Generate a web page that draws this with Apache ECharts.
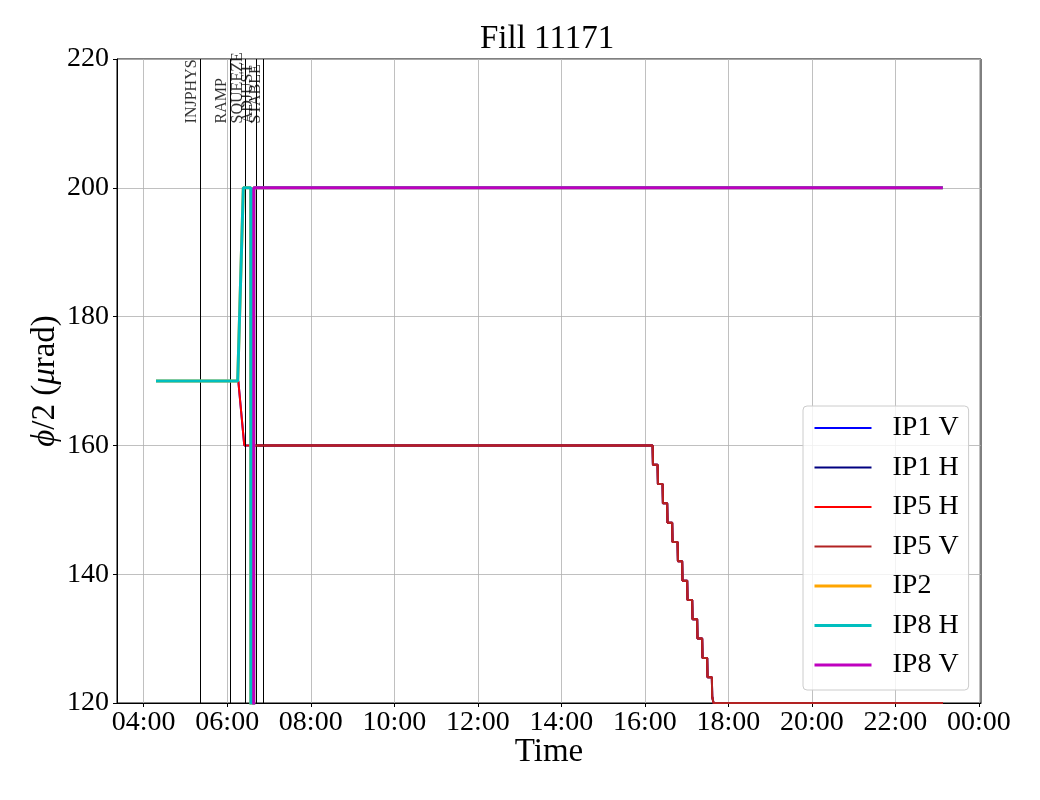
<!DOCTYPE html>
<html>
<head>
<meta charset="utf-8">
<script src="https://cdn.jsdelivr.net/npm/echarts@6/dist/echarts.min.js"></script>
<style>html,body{margin:0;padding:0;background:#fff}#c{width:1040px;height:800px}</style>
</head>
<body>
<div id="c"></div>
<script>
// ---- data (time in hours of day) ----
const seriesNames = ['IP1 V', 'IP1 H', 'IP5 H', 'IP5 V', 'IP2', 'IP8 H', 'IP8 V'];
const seriesColors = ['#0000ff', '#000080', '#ff0000', '#b22222', '#ffa500', '#00bfbf', '#bf00bf'];
const seriesWidths = [2, 2, 2, 2, 3, 3, 3];

// leveling steps of the IP1/IP5 crossing angle
const levelingSteps = [[16.186,160],[16.194,157],[16.305,157],[16.313,154],[16.425,154],[16.433,151],
  [16.535,151],[16.543,148],[16.655,148],[16.663,145],[16.784,145],[16.792,142],[16.894,142],[16.902,139],
  [17.014,139],[17.022,136],[17.134,136],[17.142,133],[17.253,133],[17.261,130],[17.373,130],[17.381,127],
  [17.493,127],[17.501,124],[17.605,124],[17.613,121],[17.636,121],[17.644,120],[23.136,120]];

const ip1V = [[4.294,170],[6.265,170],[6.408,160]];
const ip1H = [[4.294,0],[6.572,0],[6.586,160]];
const ip5H = [[4.294,170],[6.265,170],[6.408,160]];
const ip5V = [[4.294,0],[6.572,0],[6.586,160]];
const ip2  = [[4.294,170],[6.250,170],[6.385,200],[6.564,200],[6.570,0],[6.630,0],[6.636,200],[23.136,200]];
const ip8H = [[4.294,170],[6.250,170],[6.385,200],[6.564,200],[6.570,0],[6.630,0],[6.636,200],[23.136,200]];
const ip8V = [[4.294,0],[6.630,0],[6.636,200],[23.136,200]];

const eventNames = ['INJPHYS', 'RAMP', 'SQUEEZE', 'ADJUST', 'STABLE'];
const eventTimes = [5.354, 6.072, 6.440, 6.694, 6.871];
const eventLabelY = 210;

const xTicks = [4, 6, 8, 10, 12, 14, 16, 18, 20, 22, 24];
const xMin = 3.36, xMax = 24.05;
const yMin = 120, yMax = 220, yStep = 20;

// ---- build ----
const seriesData = [
  ip1V.concat(levelingSteps), ip1H.concat(levelingSteps),
  ip5H.concat(levelingSteps), ip5V.concat(levelingSteps),
  ip2, ip8H, ip8V
];
const FONT = "'Liberation Serif', 'DejaVu Serif', serif";
function hhmm(v) {
  let h = Math.floor(v + 1e-6) % 24;
  let m = Math.round((v - Math.floor(v + 1e-6)) * 60);
  return String(h).padStart(2, '0') + ':' + String(m).padStart(2, '0');
}

const series = seriesNames.map((n, i) => ({
  name: n, type: 'line', data: seriesData[i], symbol: 'none', showSymbol: false,
  color: seriesColors[i],
  lineStyle: { color: seriesColors[i], width: seriesWidths[i] },
  z: 2 + i, animation: false
}));

series.push({
  name: 'events', type: 'scatter', symbolSize: 1,
  itemStyle: { color: 'transparent' },
  data: eventTimes.map((t, i) => ({ value: [t, eventLabelY], name: eventNames[i] })),
  label: {
    show: true, formatter: p => p.name, position: 'inside', rotate: 90,
    align: 'left', verticalAlign: 'bottom', offset: [0, 0],
    fontFamily: FONT, fontSize: 16, color: '#000'
  },
  markLine: {
    silent: true, symbol: 'none', animation: false,
    label: { show: false },
    lineStyle: { color: '#000', width: 1, type: 'solid' },
    data: eventTimes.map(t => ({ xAxis: t }))
  },
  z: 20, animation: false
});

const chart = echarts.init(document.getElementById('c'), null, { renderer: 'canvas' });
chart.setOption({
  animation: false,
  backgroundColor: '#fff',
  title: {
    text: 'Fill 11171', left: 480, top: 23, padding: 0,
    textStyle: { fontFamily: FONT, fontSize: 33, fontWeight: 'normal', color: '#000' }
  },
  grid: {
    left: 117, right: 59, top: 59, bottom: 97, show: true,
    borderColor: '#000', borderWidth: 1, backgroundColor: 'transparent'
  },
  legend: {
    data: seriesNames, orient: 'vertical', left: 803, top: 406,
    padding: [8, 10, 11, 10], itemWidth: 57, itemHeight: 14, itemGap: 11.5,
    itemStyle: { opacity: 0 },
    lineStyle: { width: 'inherit' },
    backgroundColor: 'rgba(255,255,255,0.8)', borderColor: '#cccccc', borderWidth: 1, borderRadius: 4,
    textStyle: { fontFamily: FONT, fontSize: 28, color: '#000', lineHeight: 28, padding: [0, 0, 0, 16] }
  },
  xAxis: {
    type: 'value', min: xMin, max: xMax,
    name: 'Time', nameLocation: 'middle', nameGap: 33, nameMoveOverlap: false,
    nameTextStyle: { fontFamily: FONT, fontSize: 33, color: '#000' },
    axisLine: { show: true, lineStyle: { color: '#000', width: 1 } },
    axisTick: { show: true, inside: false, length: 4, customValues: xTicks, lineStyle: { color: '#000' } },
    axisLabel: { customValues: xTicks, formatter: v => hhmm(v), fontFamily: FONT, fontSize: 28, color: '#000', margin: 6 },
    splitLine: { show: true, lineStyle: { color: '#b0b0b0', width: 0.8 } }
  },
  yAxis: {
    type: 'value', min: yMin, max: yMax, interval: yStep,
    name: '{i|ϕ}/2 ({i|μ}rad)', nameLocation: 'middle', nameGap: 55, nameRotate: 90, nameMoveOverlap: false,
    nameTextStyle: {
      fontFamily: FONT, fontSize: 33, color: '#000',
      rich: { i: { fontFamily: FONT, fontSize: 33, fontStyle: 'italic', color: '#000' } }
    },
    axisLine: { show: true, lineStyle: { color: '#000', width: 1 } },
    axisTick: { show: true, inside: false, length: 4, lineStyle: { color: '#000' } },
    axisLabel: { fontFamily: FONT, fontSize: 28, color: '#000', margin: 8 },
    splitLine: { show: true, lineStyle: { color: '#b0b0b0', width: 0.8 } }
  },
  series: series
});
</script>
</body>
</html>
